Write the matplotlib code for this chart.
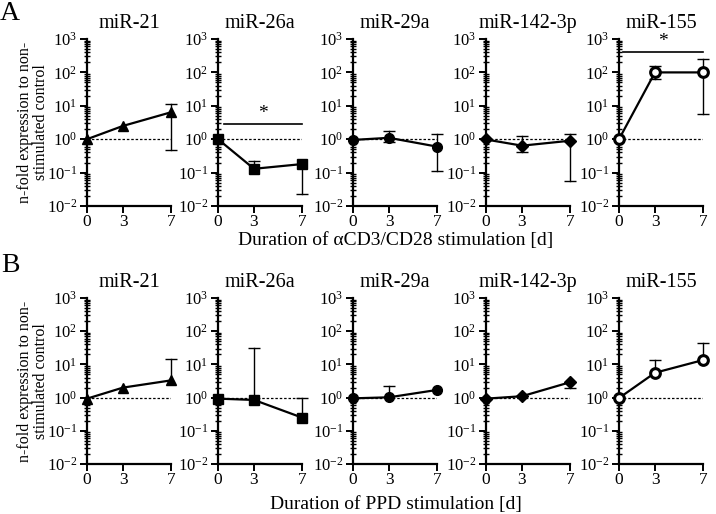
import matplotlib
matplotlib.use("Agg")
import matplotlib.pyplot as plt
import numpy as np
from matplotlib.ticker import LogLocator, LogFormatterMathtext, NullFormatter, FixedLocator

plt.rcParams['font.family'] = ['Liberation Serif', 'DejaVu Serif']
plt.rcParams['mathtext.fontset'] = 'custom'
plt.rcParams['mathtext.rm'] = 'Liberation Serif'
plt.rcParams['mathtext.it'] = 'Liberation Serif:italic'
plt.rcParams['mathtext.default'] = 'regular'

days = [0, 3, 7]
mirnas = ["miR-21", "miR-26a", "miR-29a", "miR-142-3p", "miR-155"]
markers = ["^", "s", "o", "D", "o"]
open_marker = [False, False, False, False, True]

# Panel A: aCD3/CD28 stimulation
A_mean = [[1.0, 2.5, 6.4],
          [1.0, 0.13, 0.18],
          [0.95, 1.1, 0.6],
          [0.98, 0.64, 0.9],
          [1.0, 100, 100]]
A_hi = [[None, None, 11.3],
        [None, 0.23, None],
        [None, 1.8, 1.43],
        [None, 1.26, 1.46],
        [None, 155, 257]]
A_lo = [[None, None, 0.47],
        [None, None, 0.023],
        [None, 0.8, 0.114],
        [None, 0.4, 0.056],
        [None, 63, 5.6]]
A_sig = [None, (0.5, 7, 2.85), None, None, (0.35, 7, 420)]

# Panel B: PPD stimulation
B_mean = [[0.93, 2.0, 3.3],
          [0.93, 0.85, 0.25],
          [0.95, 1.02, 1.7],
          [0.93, 1.1, 2.9],
          [0.97, 5.6, 13.5]]
B_hi = [[None, None, 14.5],
        [None, 31, 1.0],
        [None, 2.2, None],
        [None, None, None],
        [None, 13.5, 45]]
B_lo = [[None, None, None],
        [None, None, None],
        [None, None, None],
        [None, None, 1.95],
        [None, None, None]]
B_sig = [None, None, None, None, None]

xlabels = ["Duration of \u03b1CD3/CD28 stimulation [d]", "Duration of PPD stimulation [d]"]
panel_letters = ["A", "B"]
ylabel = "n-fold expression to non-\nstimulated control"

W, H = 716, 514
fig = plt.figure(figsize=(W / 100, H / 100), dpi=100)

lefts = [87, 218, 353, 486, 619]
axw = 84
rows = [(39, 206), (298, 464)]
xlabel_y = [240, 505]
letter_y = [13, 266]

datasets = [(A_mean, A_hi, A_lo, A_sig), (B_mean, B_hi, B_lo, B_sig)]

for r, (top, bot) in enumerate(rows):
    mean, hi, lo, sig = datasets[r]
    for c in range(5):
        ax = fig.add_axes([lefts[c] / W, 1 - bot / H, axw / W, (bot - top) / H])
        ax.set_yscale('log')
        ax.set_ylim(1e-2, 1e3)
        ax.set_xlim(0, 7)
        # dashed reference line
        ax.plot([0, 7], [1, 1], linestyle=(0, (2, 1.5)), color='black', lw=0.9, zorder=1)
        y = mean[c]
        # error bars
        for i, d in enumerate(days):
            for lim in (hi[c][i], lo[c][i]):
                if lim is not None:
                    ax.plot([d, d], [y[i], lim], color='black', lw=1.0, zorder=2, clip_on=False)
                    ax.plot([d], [lim], marker='_', markersize=8, mew=1.0, color='black',
                            zorder=2, clip_on=False)
        if open_marker[c]:
            ax.plot(days, y, color='black', lw=1.6, marker=markers[c], markersize=7,
                    markerfacecolor='white', markeredgecolor='black', markeredgewidth=2.2,
                    zorder=3, clip_on=False)
        else:
            ms = 7 if markers[c] != 'D' else 6
            ax.plot(days, y, color='black', lw=1.6, marker=markers[c], markersize=ms,
                    markerfacecolor='black', markeredgecolor='black', zorder=3, clip_on=False)
        if sig[c] is not None:
            x0, x1, yy = sig[c]
            ax.plot([x0, x1], [yy, yy], color='black', lw=1.2, clip_on=False)
            ax.text((x0 + x1) / 2, yy * 1.12, "*", ha='center', va='bottom', fontsize=14)
        for s in ['top', 'right']:
            ax.spines[s].set_visible(False)
        for s in ['left', 'bottom']:
            ax.spines[s].set_linewidth(1.6)
        ax.xaxis.set_major_locator(FixedLocator(days))
        ax.set_xticklabels([str(d) for d in days])
        ax.yaxis.set_major_locator(LogLocator(base=10, numticks=10))
        ax.yaxis.set_major_formatter(LogFormatterMathtext())
        ax.yaxis.set_minor_locator(LogLocator(base=10, subs=np.arange(2, 10), numticks=20))
        ax.yaxis.set_minor_formatter(NullFormatter())
        ax.tick_params(axis='y', which='major', direction='out', length=5, width=1.4,
                       labelsize=12, pad=2)
        ax.tick_params(axis='x', which='major', direction='out', length=5, width=1.4,
                       labelsize=12.5, pad=1)
        ax.tick_params(axis='y', which='minor', direction='inout', length=4, width=1.0)
        ax.set_title(mirnas[c], fontsize=14.5, pad=8)
    # y label
    fig.text(33 / W, 1 - ((top + bot) / 2) / H, ylabel, rotation=90, ha='center',
             va='center', fontsize=11.5, linespacing=1.05, multialignment='center')
    # x label
    fig.text(396 / W, 1 - xlabel_y[r] / H, xlabels[r], ha='center', va='center', fontsize=14)
    fig.text(10 / W, 1 - letter_y[r] / H, panel_letters[r], ha='center', va='center', fontsize=20)

fig.savefig("out.png", dpi=100)
